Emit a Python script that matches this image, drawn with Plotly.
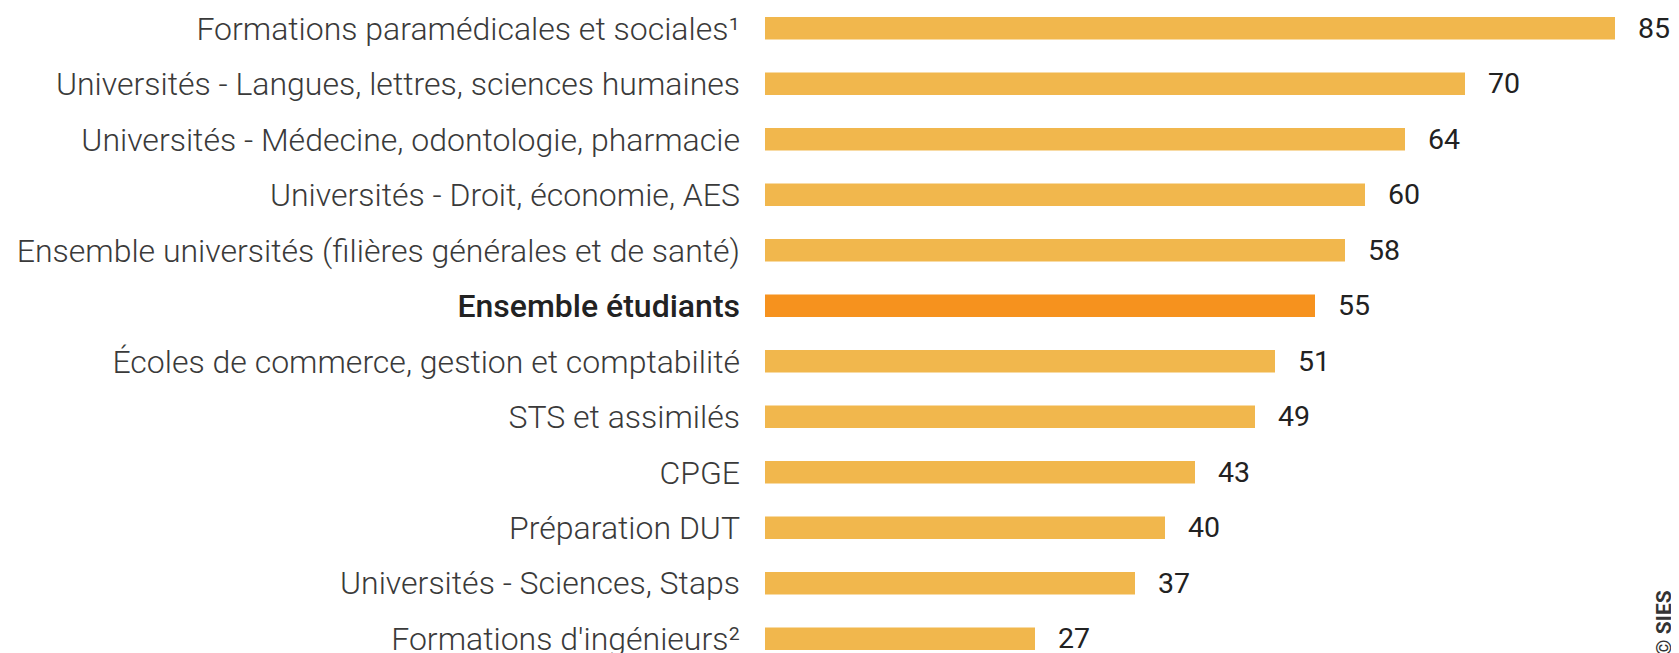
import plotly.graph_objects as go

categories = [
    "Formations paramédicales et sociales¹",
    "Universités - Langues, lettres, sciences humaines",
    "Universités - Médecine, odontologie, pharmacie",
    "Universités - Droit, économie, AES",
    "Ensemble universités (filières générales et de santé)",
    "Ensemble étudiants",
    "Écoles de commerce, gestion et comptabilité",
    "STS et assimilés",
    "CPGE",
    "Préparation DUT",
    "Universités - Sciences, Staps",
    "Formations d'ingénieurs²",
]
values = [85, 70, 64, 60, 58, 55, 51, 49, 43, 40, 37, 27]
highlight = "Ensemble étudiants"

BASE = "#F1B74D"
HIGH = "#F6921E"

colors = [HIGH if c == highlight else BASE for c in categories]
ticktext = [
    f'<span style="font-weight:500;fill:#222">{c}</span>' if c == highlight else c
    for c in categories
]
idx = list(range(len(categories)))

fig = go.Figure()
fig.add_trace(go.Bar(
    x=values, y=idx, orientation="h",
    marker=dict(color=colors, line=dict(width=0)),
    hoverinfo="skip",
))

for i, v in zip(idx, values):
    fig.add_annotation(
        x=v, y=i, xref="x", yref="y", text=str(v), showarrow=False,
        xanchor="left", yanchor="middle", xshift=21,
        font=dict(family="Roboto", size=28.5, color="#222"),
    )

fig.add_annotation(
    x=0.9995, y=0.046, xref="paper", yref="paper", text="© SIES",
    showarrow=False, textangle=-90, xanchor="center", yanchor="middle",
    font=dict(family="Roboto", size=21, color="#333", weight=700),
)

fig.update_layout(
    width=1671, height=645,
    margin=dict(l=757, r=14, t=0, b=0, autoexpand=False),
    paper_bgcolor="white", plot_bgcolor="white",
    bargap=0.595, showlegend=False,
    xaxis=dict(range=[0, 90], visible=False, fixedrange=True),
    yaxis=dict(
        range=[11.256, -0.366], tickmode="array", tickvals=idx, ticktext=ticktext,
        showgrid=False, zeroline=False, showline=False, ticks="",
        ticklabelstandoff=24, automargin=False, ticklabeloverflow="allow",
        tickfont=dict(family="Roboto", size=32, color="#3a3a3a", weight=300),
    ),
)

fig.write_html("out.html")
